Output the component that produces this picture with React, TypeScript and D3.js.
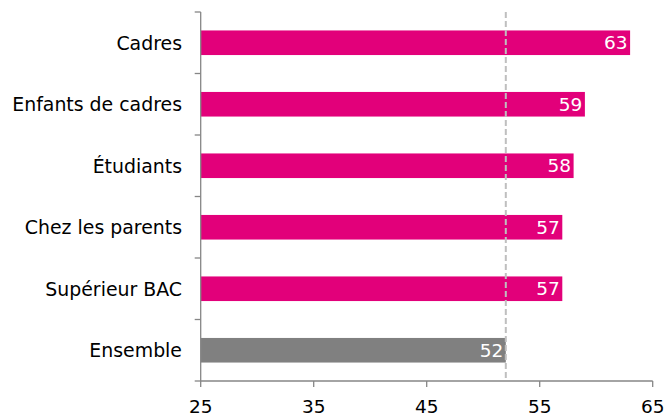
import React from "react";
import * as d3 from "d3";

const categories = ["Cadres", "Enfants de cadres", "Étudiants", "Chez les parents", "Supérieur BAC", "Ensemble"];
const values = [63, 59, 58, 57, 57, 52];
const highlight = [true, true, true, true, true, false];
const xTicks = [25, 35, 45, 55, 65];
const refValue = 52;

export default function App() {
  const W = 666, H = 417;
  const left = 200.7, right = 652.7, top = 12, bottom = 381;
  const x = d3.scaleLinear().domain([25, 65]).range([left, right]);
  const y = d3.scaleBand<string>().domain(categories).range([top, bottom]).paddingInner(0.6).paddingOuter(0.3);
  const band = d3.scaleBand<string>().domain(categories).range([top, bottom]);
  const font = "Verdana, 'DejaVu Sans', sans-serif";
  const axisColor = "#868686";
  return (
    <svg width={W} height={H} style={{ position: "absolute", left: 0, top: 0 }} fontFamily={font}>
      {categories.map((c, i) => (
        <g key={c}>
          <rect x={x(25)} y={y(c)!} width={x(values[i]) - x(25)} height={y.bandwidth()}
            fill={highlight[i] ? "#E2007A" : "#808080"} />
          <text x={x(values[i]) - 2.5} y={y(c)! + y.bandwidth() / 2} dy="0.36em" textAnchor="end"
            fill="#fff" fontSize={18.5}>{values[i]}</text>
          <text x={182} y={band(c)! + band.bandwidth() / 2} dy="0.36em" textAnchor="end"
            fill="#000" fontSize={18.9}>{c}</text>
        </g>
      ))}
      <line x1={x(refValue)} x2={x(refValue)} y1={top} y2={bottom} stroke="#BFBFBF" strokeWidth={2} strokeDasharray="6,3" />
      <line x1={left} x2={left} y1={top} y2={bottom} stroke={axisColor} strokeWidth={1.3} />
      {d3.range(categories.length + 1).map((k) => {
        const yy = top + k * band.step();
        return <line key={k} x1={left - 6} x2={left} y1={yy} y2={yy} stroke={axisColor} strokeWidth={1.3} />;
      })}
      <line x1={left} x2={right} y1={bottom} y2={bottom} stroke={axisColor} strokeWidth={1.3} />
      {xTicks.map((t) => (
        <g key={t}>
          <line x1={x(t)} x2={x(t)} y1={bottom} y2={bottom + 6} stroke={axisColor} strokeWidth={1.3} />
          <text x={x(t)} y={bottom + 32} textAnchor="middle" fill="#000" fontSize={18.5}>{t}</text>
        </g>
      ))}
    </svg>
  );
}
